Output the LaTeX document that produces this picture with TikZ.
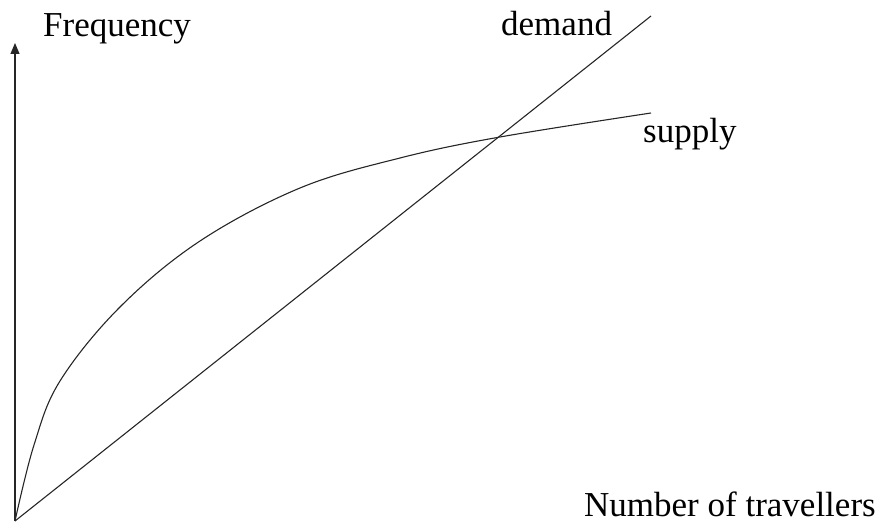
\documentclass[tikz,border=0pt]{standalone}
\usepackage{fontspec}
\setmainfont{Liberation Serif}
\usetikzlibrary{arrows.meta}

\begin{document}
\begin{tikzpicture}[
    x=1pt, y=-1pt,
    curve/.style={draw=black!85, line width=1.1pt},
    arr/.style={-{Triangle[length=11pt, width=9pt]}},
    lbl/.style={anchor=base west, inner sep=0pt, font=\fontsize{35}{40}\selectfont},
]
\useasboundingbox (0,0) rectangle (879,524);

\coordinate (O) at (15,521);
\coordinate (ytop) at (15,43);
\coordinate (dend) at (651,16);
\coordinate (send) at (651,113);

\node[lbl] (freq) at (43,37) {Frequency};
\node[lbl] (dem) at (501,36) {demand};
\node[lbl] (sup) at (643,143) {supply};
\node[lbl] (num) at (584,516) {Number of travellers};

% axis and the two lines
\draw[curve, arr] (O) -- (ytop);
\draw[curve] (O) -- (dend);
\draw[curve] plot[smooth, tension=0.6] coordinates {(O) (34,445) (60,381)
    (120,307) (200,241) (300,188) (400,158) (500,137) (send)};

\end{tikzpicture}
\end{document}
